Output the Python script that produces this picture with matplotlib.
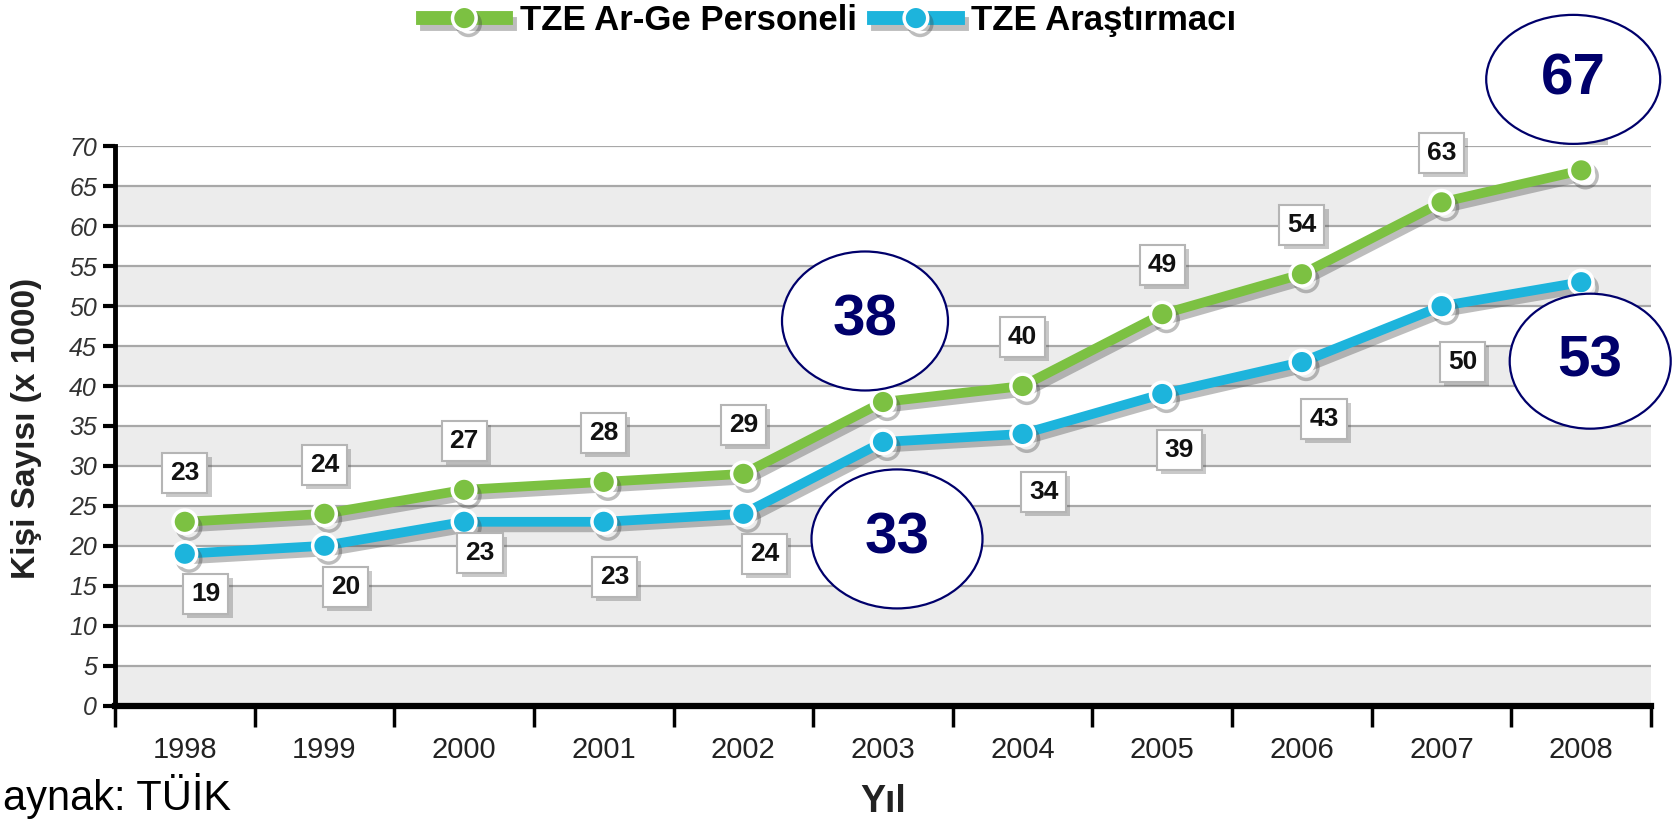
import numpy as np
import matplotlib
matplotlib.use("Agg")
import matplotlib.pyplot as plt
import matplotlib.patheffects as pe
from matplotlib.patches import Ellipse
from matplotlib.lines import Line2D
from matplotlib import transforms

plt.rcParams['font.family'] = ['Liberation Sans', 'DejaVu Sans']

years = ['1998', '1999', '2000', '2001', '2002', '2003', '2004', '2005', '2006', '2007', '2008']
personel = [23, 24, 27, 28, 29, 38, 40, 49, 54, 63, 67]
arastirmaci = [19, 20, 23, 23, 24, 33, 34, 39, 43, 50, 53]
series_names = ['TZE Ar-Ge Personeli', 'TZE Araştırmacı']

GREEN = '#7cc142'
BLUE = '#1db4dc'
NAVY = '#00006b'

# label placement (pixels from the point)
green_dx, green_dy = 0, 49
blue_dx = [21, 21, 16, 11, 21, 21, 21, 17, 22, 21, 21]
blue_dy = [-40, -41, -31, -55, -40, -50, -58, -56, -57, -56, -50]

# highlighted values: (series, year index, dx, dy, width, height) in pixels
bubbles = [(0, 5, -18, 81, 166, 139),
           (1, 5, 14, -97, 171, 139),
           (0, 10, -8, 91, 174, 129),
           (1, 10, 9, -79, 161, 135)]

fig = plt.figure(figsize=(16.76, 8.30), dpi=100)
ax = fig.add_axes([0.0686, 0.15, 0.9165, 0.6736])
x = np.arange(len(years))

# alternating bands
for lo in range(0, 70, 10):
    ax.axhspan(lo, lo + 5, color='#ececec', zorder=0, lw=0)
ax.grid(axis='y', color='#a8a8a8', lw=1.6)
ax.set_axisbelow(True)

shadow = [pe.SimpleLineShadow(offset=(3, -4), shadow_color='#444444', alpha=0.35), pe.Normal()]
series = [personel, arastirmaci]
colors = [GREEN, BLUE]
for vals, color, name in zip(series, colors, series_names):
    ax.plot(x, vals, color=color, lw=7, marker='o', ms=17, mfc=color, mec='white',
            mew=2.5, solid_joinstyle='round', zorder=3, path_effects=shadow, label=name)


def value_label(xi, v, dx, dy):
    t = ax.annotate(str(v), (xi, v), xytext=(dx, dy), textcoords='offset pixels',
                    ha='center', va='center', fontsize=19, fontweight='bold', color='#111111',
                    zorder=4, annotation_clip=False,
                    bbox=dict(boxstyle='square,pad=0.3', fc='white', ec='#b5b5b5', lw=1.5))
    t.get_bbox_patch().set_path_effects([pe.SimplePatchShadow(offset=(3, -3), alpha=0.3), pe.Normal()])


for i in x:
    value_label(i, personel[i], green_dx, green_dy)
    value_label(i, arastirmaci[i], blue_dx[i], blue_dy[i])

for s, i, dx, dy, w, h in bubbles:
    v = series[s][i]
    tr = transforms.Affine2D().translate(dx, dy) + transforms.ScaledTranslation(i, v, ax.transData)
    fig.add_artist(Ellipse((0, 0), w, h, transform=tr, fc='white', ec=NAVY, lw=1.6, zorder=6))
    fig.text(0, 0, str(v), transform=tr, ha='center', va='center', fontsize=42,
             fontweight='bold', color=NAVY, zorder=7)

ax.set_xlim(-0.5, 10.5)
ax.set_ylim(0, 70)

ax.set_xticks(x)
ax.set_xticklabels(years)
ax.tick_params(axis='x', which='major', length=0, pad=22, labelsize=21, labelcolor='#222222')
ax.set_xticks(np.arange(-0.5, 11, 1), minor=True)
ax.tick_params(axis='x', which='minor', length=15, width=2.5, color='black')
ax.set_yticks(range(0, 75, 5))
ax.tick_params(axis='y', length=9, width=3, labelsize=18, pad=4, labelcolor='#333333')
for lbl in ax.get_yticklabels():
    lbl.set_fontstyle('italic')

for side in ['top', 'right']:
    ax.spines[side].set_visible(False)
ax.spines['left'].set_linewidth(3.5)
ax.spines['bottom'].set_linewidth(4.5)

fig.text(0.016, 0.484, 'Kişi Sayısı (x 1000)', rotation=90, ha='center', va='center',
         fontsize=24, fontweight='bold', color='#222222')
fig.text(0.527, 0.034, 'Yıl', ha='center', va='center', fontsize=27, fontweight='bold', color='#222222')
fig.text(0.002, 0.041, 'aynak: TÜİK', ha='left', va='center', fontsize=30, color='black')

handles = [Line2D([], [], color=c, lw=10, marker='o', ms=17, mfc=c, mec='white', mew=2.5,
                  path_effects=shadow) for c in colors]
fig.legend(handles, series_names, loc='center', bbox_to_anchor=(0.495, 0.975), ncol=2,
           frameon=False, prop=dict(size=25, weight='bold'), handlelength=2.4,
           handletextpad=0.4, columnspacing=0.5)

fig.savefig('out.png', dpi=100)
